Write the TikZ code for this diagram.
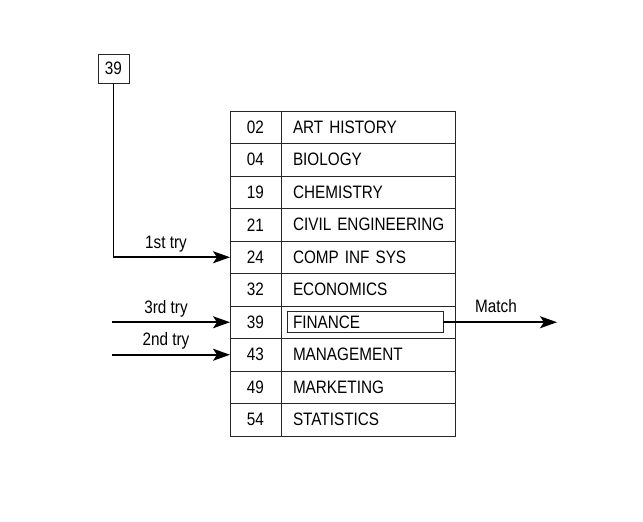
\documentclass[tikz,border=0pt]{standalone}
\usepackage{fontspec}
\setmainfont[FakeStretch=0.85]{Liberation Sans}
\usetikzlibrary{positioning, arrows.meta}

\begin{document}
\begin{tikzpicture}[x=1pt, y=-1pt,
        node distance=0pt,
        keycell/.style={draw=black!85, line width=0.8pt, outer sep=0pt, inner sep=0pt, minimum width=51pt, minimum height=32.5pt, font=\fontsize{18}{20}\selectfont},
        namecell/.style={draw=black!85, line width=0.8pt, outer sep=0pt, inner xsep=6pt, inner ysep=0pt, text width=162pt, align=left, minimum height=32.5pt, font=\fontsize{18}{20}\selectfont},
        hitbox/.style={draw=black!85, line width=0.8pt, outer sep=0pt, inner sep=0pt, minimum width=156pt, minimum height=21pt},
        trylabel/.style={font=\fontsize{18}{20}\selectfont, inner sep=0pt},
        arrow/.style={-{Stealth[length=17pt, width=12pt, inset=4pt]}, line width=1.8pt}
    ]
    \useasboundingbox (0,0) rectangle (643,522);

    % sorted table of keys
    \foreach \key/\name [count=\i] in {02/ART HISTORY, 04/BIOLOGY, 19/CHEMISTRY, 21/CIVIL ENGINEERING, 24/COMP INF SYS, 32/ECONOMICS, 39/FINANCE, 43/MANAGEMENT, 49/MARKETING, 54/STATISTICS} {
        \node[keycell] (k\i) at (255.5, 94.75+32.5*\i) {\key};
        \node[namecell, right=of k\i] (n\i) {\hspace*{6pt}\name};
    }
    \node[hitbox] (hit) at (365,322.25) {};

    % search key
    \node[keycell, minimum width=31pt, minimum height=29pt] (srch) at (113.5,68.5) {39};

    \coordinate (a3) at (112,322.25);
    \coordinate (a2) at (112,354.75);
    \coordinate (m) at (557,322.25);

    \draw[arrow] (srch.south) |- (k5.west);
    \draw[arrow] (a3) -- (k7.west);
    \draw[arrow] (a2) -- (k8.west);
    \draw[arrow] (hit.east) -- (m);

    \node[trylabel] (t1) at (166,244) {1st try};
    \node[trylabel] (t3) at (166,309) {3rd try};
    \node[trylabel] (t2) at (166,341) {2nd try};
    \node[trylabel] (tm) at (496,306) {Match};

\end{tikzpicture}
\end{document}
